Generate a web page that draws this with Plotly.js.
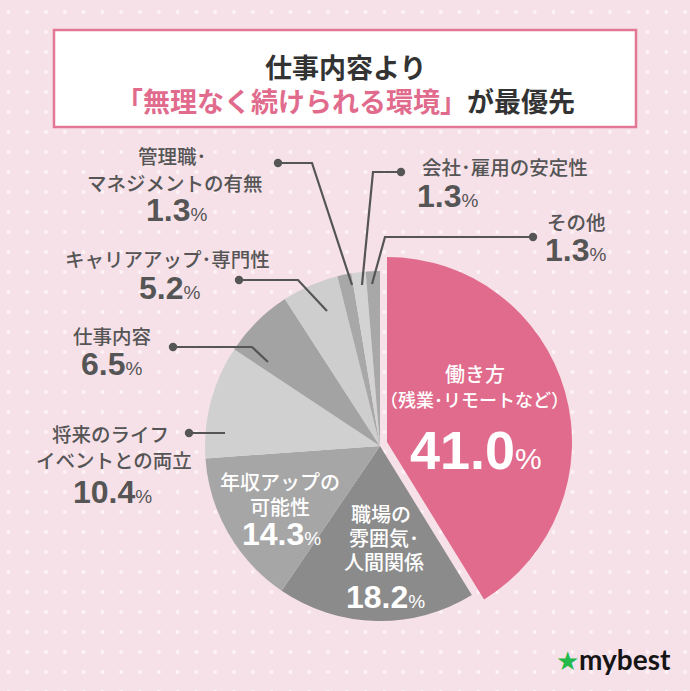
<!DOCTYPE html>
<html><head><meta charset="utf-8">
<script src="https://cdn.plot.ly/plotly-3.0.1.min.js"></script>
<style>
html,body{margin:0;padding:0;}
body{width:690px;height:691px;overflow:hidden;background-color:#f7e1e9;
background-image:radial-gradient(circle, #fdf3f7 1.5px, rgba(253,243,247,0) 2.3px);
background-size:18.8px 20px;background-position:-1px 2px;}
#chart{width:690px;height:691px;}
</style></head><body><div id="chart"></div><script>
// ---- data ----
const categories = ['働き方（残業・リモートなど）','職場の雰囲気・人間関係','年収アップの可能性','将来のライフイベントとの両立','仕事内容','キャリアアップ・専門性','管理職・マネジメントの有無','会社・雇用の安定性','その他'];
const values = [41.0, 18.2, 14.3, 10.4, 6.5, 5.2, 1.3, 1.3, 1.3];
const labelLines = [['働き方','（残業･リモートなど）'],['職場の','雰囲気･','人間関係'],['年収アップの','可能性'],['将来のライフ','イベントとの両立'],['仕事内容'],['キャリアアップ･専門性'],['管理職･','マネジメントの有無'],['会社･雇用の安定性'],['その他']];
const titleLine1 = '仕事内容より';
const titleHighlight = '「無理なく続けられる環境」';
const titleRest = 'が最優先';
const brand = 'mybest';

// ---- styles / layout constants ----
const W = 690, H = 691;
const PINK = '#e16b8c';
const sliceColors = ['#e16b8c','#8b8b8b','#a6a6a6','#d0d0d0','#a3a3a3','#cecece','#a8a8a8','#d3d3d3','#a8a8a8'];
const TXT = '#555555';
const JP = '"Noto Sans CJK JP", "Noto Sans", sans-serif';
const NUM = '"Liberation Sans", Arial, sans-serif';
const px = x => x / W;
const py = y => 1 - y / H;

// pie geometry (px): base pie and enlarged highlighted slice
const base = {cx: 380, cy: 446, r: 175};
const hi = {cx: 387, cy: 442, r: 185};
const dom = g => ({x: [px(g.cx - g.r), px(g.cx + g.r)], y: [py(g.cy + g.r), py(g.cy - g.r)]});

const baseColors = sliceColors.map((c, i) => i === 0 ? 'rgba(0,0,0,0)' : c);
const hiColors = sliceColors.map((c, i) => i === 0 ? c : 'rgba(0,0,0,0)');

const pieCommon = {type: 'pie', labels: categories, values: values, sort: false, direction: 'clockwise', rotation: 0, textinfo: 'none', hoverinfo: 'skip', showlegend: false};
const traces = [
  Object.assign({}, pieCommon, {domain: dom(base), marker: {colors: baseColors, line: {width: 0}}}),
  Object.assign({}, pieCommon, {domain: dom(hi), marker: {colors: hiColors, line: {width: 0}}})
];

// label placement (px): per category, positions of text lines then the number line
const labelPos = [
  {lines: [[475, 373], [475, 399]], num: [476, 450], inside: true, size: 20, numSize: 54, pctSize: 30, sub: 18},
  {lines: [[381, 513], [384, 537], [384, 561]], num: [385, 597], inside: true, size: 20, numSize: 32, pctSize: 19},
  {lines: [[280, 481], [280, 506]], num: [281, 534], inside: true, size: 20, numSize: 32, pctSize: 19},
  {lines: [[111, 433], [114, 459]], num: [113, 492], size: 19.5, numSize: 32, pctSize: 19},
  {lines: [[112, 335]], num: [112, 364], size: 19.5, numSize: 32, pctSize: 19},
  {lines: [[167, 258]], num: [169, 288], size: 19.5, numSize: 32, pctSize: 19},
  {lines: [[172, 155], [175, 182]], num: [176, 210], size: 19.5, numSize: 32, pctSize: 19},
  {lines: [[420, 166]], num: [415, 196], left: true, size: 19.5, numSize: 32, pctSize: 19},
  {lines: [[545, 221]], num: [543, 250], left: true, size: 19.5, numSize: 32, pctSize: 19}
];
// leader lines (px), index matches categories; first point is the dot
const leaders = {
  3: [[189, 433], [225, 433]],
  4: [[173, 347], [252, 347], [268, 362]],
  5: [[239, 280], [298, 280], [327, 311]],
  6: [[278, 163], [312, 163], [352, 285]],
  7: [[401, 172], [373, 172], [362, 285]],
  8: [[533, 237], [385, 237], [372, 284]]
};

const annotations = [];
const ann = (text, x, y, size, color, family, anchor, weight) => annotations.push({
  text: text, x: px(x), y: py(y), xref: 'paper', yref: 'paper', showarrow: false,
  xanchor: anchor || 'center', yanchor: 'middle', font: {size: size, color: color, family: family, weight: weight || 'normal'}
});

labelPos.forEach((p, i) => {
  const col = p.inside ? '#ffffff' : TXT;
  const anchor = p.left ? 'left' : 'center';
  labelLines[i].forEach((t, k) => {
    const s = (k > 0 && p.sub) ? p.sub : p.size;
    ann(t, p.lines[k][0], p.lines[k][1], s, col, JP, anchor, 500);
  });
  ann('<b>' + values[i].toFixed(1) + '</b><span style="font-size:' + p.pctSize + 'px">%</span>', p.num[0], p.num[1], p.numSize, col, NUM, anchor);
});

// title
ann('<b>' + titleLine1 + '</b>', 345, 66, 27, '#333333', JP);
ann('<b><span style="fill:' + PINK + '">' + titleHighlight + '</span>' + titleRest + '</b>', 345, 100, 27, '#333333', JP);
// brand
annotations.push({text: '<span style="fill:#23b94b;font-size:26px">★</span><b>' + brand + '</b>', x: px(673), y: py(659), xref: 'paper', yref: 'paper', showarrow: false, xanchor: 'right', yanchor: 'middle', font: {size: 28, color: '#151515', family: 'Lato, Roboto, sans-serif'}});

const shapes = [
  {type: 'rect', xref: 'paper', yref: 'paper', x0: px(54), x1: px(636), y0: py(127), y1: py(30), fillcolor: '#ffffff', line: {color: '#e27895', width: 2.5}, layer: 'below'}
];
Object.keys(leaders).forEach(k => {
  const pts = leaders[k];
  const d = pts.map((p, j) => (j ? 'L' : 'M') + px(p[0]) + ',' + py(p[1])).join(' ');
  shapes.push({type: 'path', xref: 'paper', yref: 'paper', path: d, line: {color: TXT, width: 2.2}});
  const r = 4.2;
  shapes.push({type: 'circle', xref: 'paper', yref: 'paper', x0: px(pts[0][0] - r), x1: px(pts[0][0] + r), y0: py(pts[0][1] + r), y1: py(pts[0][1] - r), fillcolor: TXT, line: {width: 0}});
});

const layout = {
  width: W, height: H, margin: {l: 0, r: 0, t: 0, b: 0},
  paper_bgcolor: 'rgba(0,0,0,0)', plot_bgcolor: 'rgba(0,0,0,0)',
  showlegend: false, annotations: annotations, shapes: shapes
};
Plotly.newPlot('chart', traces, layout, {staticPlot: true, displayModeBar: false});
</script></body></html>
